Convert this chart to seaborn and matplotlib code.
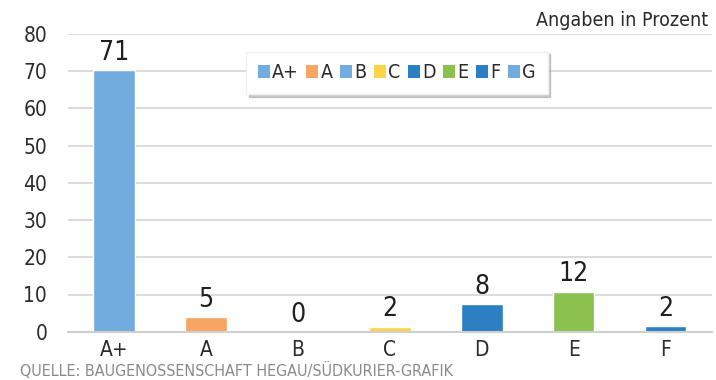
import matplotlib
matplotlib.use("Agg")
import matplotlib.pyplot as plt
import matplotlib.font_manager as fm
from matplotlib.patches import Patch
from matplotlib.ticker import FixedLocator
import seaborn as sns
import pandas as pd

# --- Daten ---
klassen = ["A+", "A", "B", "C", "D", "E", "F"]
balken_werte = [70.3, 4.0, 0.0, 1.4, 7.4, 10.8, 1.5]
beschriftung = ["71", "5", "0", "2", "8", "12", "2"]
farben = ["#72acde", "#f8a462", "#72acde", "#fdd447", "#2d7fc4", "#8bc14e", "#2d7fc4"]
legende_namen = ["A+", "A", "B", "C", "D", "E", "F", "G"]
legende_farben = ["#72acde", "#f8a462", "#72acde", "#fdd447", "#2d7fc4", "#8bc14e", "#2d7fc4", "#72acde"]

# --- Schrift: schmale Variante, falls vorhanden ---
sns.set_style("white")
vorhanden = {f.name for f in fm.fontManager.ttflist}
schrift = "Liberation Sans Narrow" if "Liberation Sans Narrow" in vorhanden else "DejaVu Sans"
plt.rcParams["font.family"] = [schrift, "DejaVu Sans"]
plt.rcParams["font.stretch"] = "condensed"
textfarbe = "#2b2b2b"

df = pd.DataFrame({"klasse": klassen, "wert": balken_werte})

fig = plt.figure(figsize=(7.16, 3.8), dpi=100)
ax = fig.add_axes([0.095, 0.127, 0.899, 0.784])

sns.barplot(data=df, x="klasse", y="wert", hue="klasse", palette=farben,
            legend=False, width=0.45, saturation=1, ax=ax)

for container, txt in zip(ax.containers, beschriftung):
    ax.bar_label(container, labels=[txt], padding=3, fontsize=19,
                 color="#1f1f1f")

# --- Achsen ---
ax.set_ylim(0, 80)
ax.set_xlim(-0.5, len(klassen) - 0.5)
ax.set_yticks(range(0, 81, 10))
ax.yaxis.grid(True, color="#dcdcdc", linewidth=1.4)
ax.set_axisbelow(True)
for s in ["top", "right", "left"]:
    ax.spines[s].set_visible(False)
ax.spines["bottom"].set_color("#cfcfcf")
ax.spines["bottom"].set_linewidth(1.5)
ax.tick_params(axis="y", length=0, labelsize=15, labelcolor=textfarbe, pad=15)
ax.tick_params(axis="x", which="major", length=0, labelsize=15,
               labelcolor=textfarbe, pad=6)
ax.xaxis.set_minor_locator(FixedLocator([i - 0.5 for i in range(len(klassen) + 1)]))
ax.tick_params(axis="x", which="minor", length=5, width=1.2, color="#cfcfcf",
               direction="out")
ax.set_xlabel("")
ax.set_ylabel("")

# --- Legende ---
handles = [Patch(facecolor=c, edgecolor="none") for c in legende_farben]
leg = ax.legend(handles, legende_namen, loc="center", bbox_to_anchor=(0.511, 0.869),
                ncol=8, frameon=True, shadow={"color": "#9a9a9a", "alpha": 0.5},
                fontsize=14, handlelength=0.6, handleheight=0.6,
                handletextpad=0.12, columnspacing=0.4, borderpad=0.6,
                fancybox=False)
leg.get_frame().set_edgecolor("#f0f0f0")
for t in leg.get_texts():
    t.set_color(textfarbe)

# --- Texte ---
fig.text(0.989, 0.945, "Angaben in Prozent", ha="right", va="center",
         fontsize=14, color=textfarbe)
fig.text(0.028, 0.025, "QUELLE: BAUGENOSSENSCHAFT HEGAU/SÜDKURIER-GRAFIK",
         ha="left", va="center", fontsize=11.5, color="#8a8a8a")

fig.savefig("out.png", dpi=100)
